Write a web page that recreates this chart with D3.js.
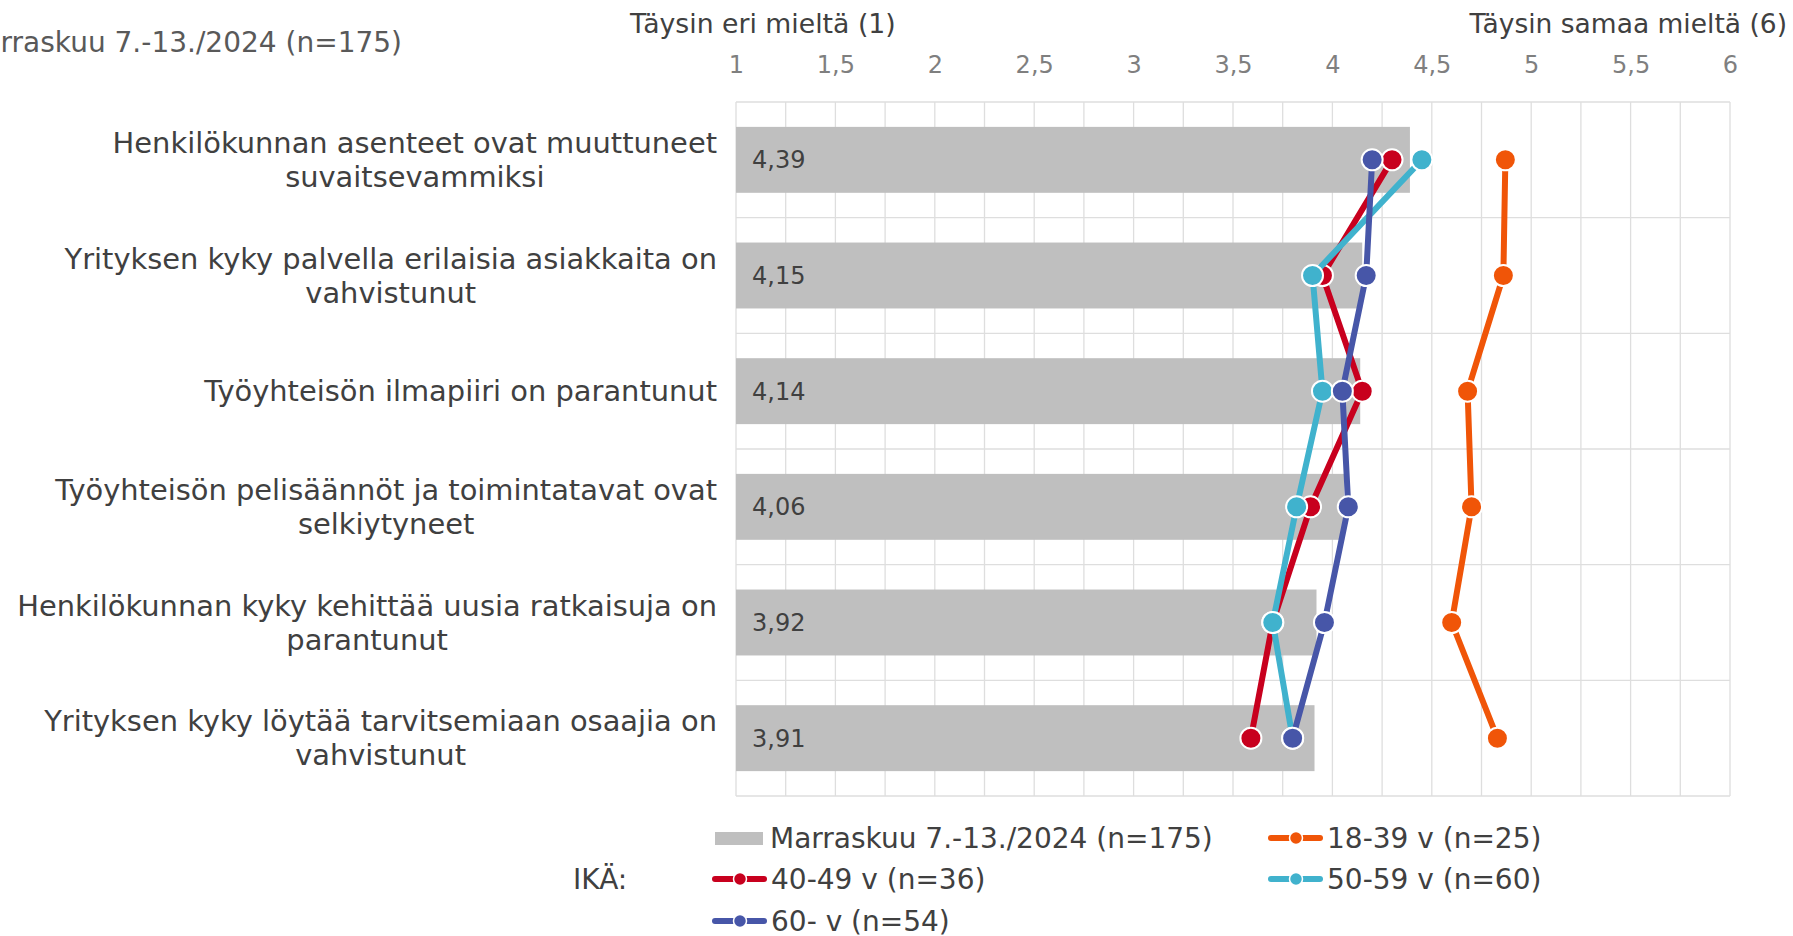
<!DOCTYPE html>
<html>
<head>
<meta charset="utf-8">
<script src="https://cdn.jsdelivr.net/npm/d3@7"></script>
<style>
  body { margin: 0; background: #fff; }
  svg { display: block; font-family: "DejaVu Sans", Verdana, sans-serif; }
</style>
</head>
<body>
<div id="chart"></div>
<script>
const width = 1793;
const height = 936;

// kysymykset
const categories = [
    ["Henkilökunnan asenteet ovat muuttuneet", "suvaitsevammiksi"],
    ["Yrityksen kyky palvella erilaisia asiakkaita on", "vahvistunut"],
    ["Työyhteisön ilmapiiri on parantunut"],
    ["Työyhteisön pelisäännöt ja toimintatavat ovat", "selkiytyneet"],
    ["Henkilökunnan kyky kehittää uusia ratkaisuja on", "parantunut"],
    ["Yrityksen kyky löytää tarvitsemiaan osaajia on", "vahvistunut"]
];

const totalLabel = "Marraskuu 7.-13./2024 (n=175)";
const totalValues = [4.39, 4.15, 4.14, 4.06, 3.92, 3.91];

const seriesNames = ["18-39 v (n=25)", "40-49 v (n=36)", "50-59 v (n=60)", "60- v (n=54)"];
const seriesColors = ["#f05508", "#c8001e", "#40b2cd", "#4756a8"];
const v1839 = [4.87, 4.86, 4.68, 4.70, 4.60, 4.83];
const v4049 = [4.30, 3.95, 4.15, 3.89, 3.70, 3.59];
const v5059 = [4.45, 3.90, 3.95, 3.82, 3.70, 3.80];
const v60 = [4.20, 4.17, 4.05, 4.08, 3.96, 3.80];
const seriesValues = [v1839, v4049, v5059, v60];

const xTicks = [1, 1.5, 2, 2.5, 3, 3.5, 4, 4.5, 5, 5.5, 6];

const fmt = d => String(d).replace(".", ",");
const fmt2 = d => d.toFixed(2).replace(".", ",");

const svg = d3.select("#chart").append("svg")
    .attr("width", width)
    .attr("height", height);

const x = d3.scaleLinear().domain([1, 6]).range([736, 1730]);
const y = d3.scaleBand()
    .domain(d3.range(categories.length))
    .range([102, 796])
    .paddingInner(0.43)
    .paddingOuter(0.215);
const rowMid = i => y(i) + y.bandwidth() / 2;
const step = y.step();

// grid
const grid = svg.append("g");
grid.selectAll("line.v")
    .data(d3.range(1, 6.001, 0.25))
    .join("line")
    .attr("class", "v")
    .attr("x1", d => x(d)).attr("x2", d => x(d))
    .attr("y1", 102).attr("y2", 796)
    .attr("stroke", "#dedede")
    .attr("stroke-width", 1.3);
grid.selectAll("line.h")
    .data(d3.range(categories.length + 1))
    .join("line")
    .attr("class", "h")
    .attr("x1", 736).attr("x2", 1730)
    .attr("y1", d => 102 + d * step).attr("y2", d => 102 + d * step)
    .attr("stroke", "#dedede")
    .attr("stroke-width", 1.3);

// top axis
const axis = svg.append("g")
    .attr("transform", "translate(0,65)")
    .call(d3.axisTop(x).tickValues(xTicks).tickSize(0).tickPadding(0).tickFormat(fmt));
axis.select(".domain").remove();
axis.selectAll("text")
    .attr("font-family", "DejaVu Sans, Verdana, sans-serif")
    .attr("font-size", 24)
    .attr("fill", "#7f7f7f")
    .attr("dy", "0.35em");

svg.append("text")
    .attr("x", 630).attr("y", 24)
    .attr("dy", "0.35em")
    .attr("font-size", 26.7)
    .attr("fill", "#404040")
    .text("Täysin eri mieltä (1)");
svg.append("text")
    .attr("x", 1787).attr("y", 24)
    .attr("dy", "0.35em")
    .attr("text-anchor", "end")
    .attr("font-size", 26.5)
    .attr("fill", "#404040")
    .text("Täysin samaa mieltä (6)");

// otsikko, vasen reuna leikkautuu kuten alkuperäisessä
svg.append("text")
    .attr("x", 402).attr("y", 42)
    .attr("dy", "0.35em")
    .attr("text-anchor", "end")
    .attr("font-size", 28)
    .attr("fill", "#595959")
    .text(totalLabel);

// bars
svg.append("g").selectAll("rect")
    .data(totalValues)
    .join("rect")
    .attr("x", x(1))
    .attr("y", (d, i) => y(i))
    .attr("width", d => x(d) - x(1))
    .attr("height", y.bandwidth())
    .attr("fill", "#bfbfbf");

svg.append("g").selectAll("text")
    .data(totalValues)
    .join("text")
    .attr("x", x(1) + 16)
    .attr("y", (d, i) => rowMid(i))
    .attr("dy", "0.35em")
    .attr("font-size", 24)
    .attr("fill", "#404040")
    .text(fmt2);

// category labels
const labels = svg.append("g").selectAll("text")
    .data(categories)
    .join("text")
    .attr("font-size", 28.9)
    .attr("fill", "#404040")
    .attr("text-anchor", "middle");
labels.each(function (lines, i) {
    const t = d3.select(this);
    const n = lines.length;
    lines.forEach((ln, k) => {
        t.append("tspan")
            .attr("y", rowMid(i) + (k - (n - 1) / 2) * 34)
            .attr("dy", "0.35em")
            .text(ln);
    });
});
// widest line right edge at x=717, lines centred on each other
labels.each(function () {
    const t = d3.select(this);
    let w = 0;
    t.selectAll("tspan").each(function () { w = Math.max(w, this.getComputedTextLength()); });
    t.selectAll("tspan").attr("x", 717 - w / 2);
});

// series lines + markers
const line = d3.line()
    .x(d => x(d))
    .y((d, i) => rowMid(i));

seriesValues.forEach((vals, s) => {
    const g = svg.append("g");
    g.append("path")
        .datum(vals)
        .attr("d", line)
        .attr("fill", "none")
        .attr("stroke", seriesColors[s])
        .attr("stroke-width", 6)
        .attr("stroke-linejoin", "round");
    g.selectAll("circle")
        .data(vals)
        .join("circle")
        .attr("cx", d => x(d))
        .attr("cy", (d, i) => rowMid(i))
        .attr("r", 10.5)
        .attr("fill", seriesColors[s])
        .attr("stroke", "#fff")
        .attr("stroke-width", 2);
});

// legend
const legend = svg.append("g").attr("font-size", 28).attr("fill", "#404040");
legend.append("text")
    .attr("x", 573).attr("y", 879).attr("dy", "0.35em")
    .text("IKÄ:");
legend.append("rect")
    .attr("x", 715).attr("y", 832)
    .attr("width", 48).attr("height", 13)
    .attr("fill", "#bfbfbf");
legend.append("text")
    .attr("x", 770).attr("y", 838).attr("dy", "0.35em")
    .text(totalLabel);

const legPos = [[1268, 838], [712, 879], [1268, 879], [712, 921]];
seriesNames.forEach((name, s) => {
    const [lx, ly] = legPos[s];
    const g = legend.append("g").attr("transform", `translate(${lx},${ly})`);
    g.append("line")
        .attr("x1", 3).attr("x2", 52)
        .attr("stroke", seriesColors[s])
        .attr("stroke-width", 6)
        .attr("stroke-linecap", "round");
    g.append("circle")
        .attr("cx", 28).attr("r", 6.5)
        .attr("fill", seriesColors[s])
        .attr("stroke", "#fff")
        .attr("stroke-width", 1.5);
    g.append("text")
        .attr("x", 59).attr("dy", "0.35em")
        .text(name);
});
</script>
</body>
</html>
